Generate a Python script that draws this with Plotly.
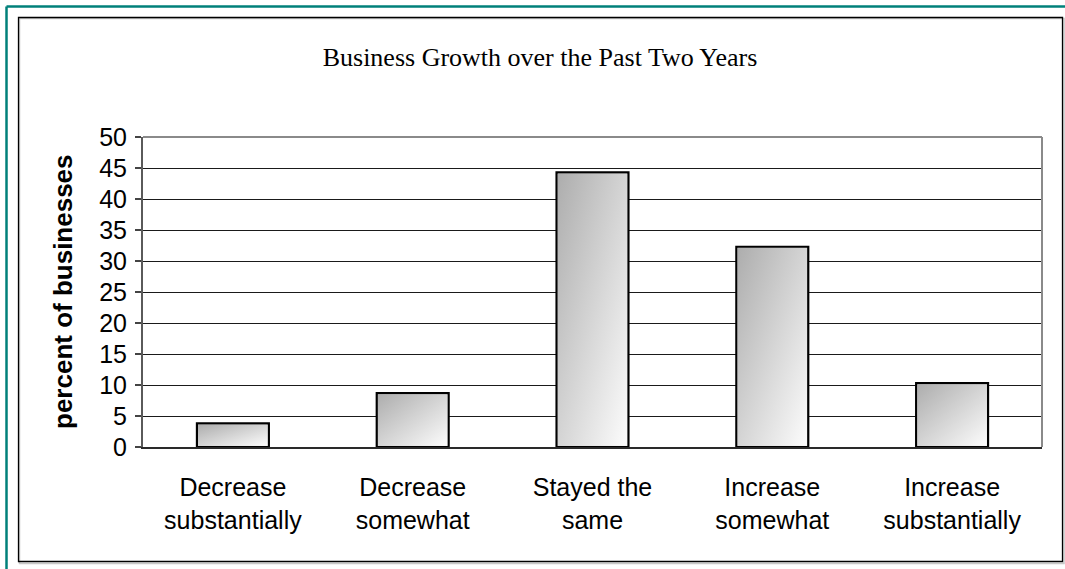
import base64
import plotly.graph_objects as go

# ---- data -------------------------------------------------------------
categories = [
    "Decrease<br>substantially",
    "Decrease<br>somewhat",
    "Stayed the<br>same",
    "Increase<br>somewhat",
    "Increase<br>substantially",
]
percent = [3.8, 8.7, 44.3, 32.3, 10.3]
y_ticks = [0, 5, 10, 15, 20, 25, 30, 35, 40, 45, 50]

# ---- page geometry ----------------------------------------------------
W, H = 1065, 569
ML, MR, MT, MB = 143, 23, 137, 122
PW, PH = W - ML - MR, H - MT - MB


def paper_x(px):
    return (px - ML) / PW


def paper_y(py):
    return (H - MB - py) / PH


BAR_W = 0.4
x_pos = list(range(len(categories)))

fig = go.Figure()

fig.add_trace(go.Bar(
    x=x_pos,
    y=percent,
    width=BAR_W,
    marker=dict(color="#cfcfcf", line=dict(color="black", width=2.2)),
    hoverinfo="y",
    showlegend=False,
))

# diagonal grey gradient used to fill each bar
grad_svg = (
    '<svg xmlns="http://www.w3.org/2000/svg" width="100" height="100" '
    'viewBox="0 0 100 100" preserveAspectRatio="none">'
    '<defs><linearGradient id="g" x1="0" y1="0" x2="1" y2="1">'
    '<stop offset="0" stop-color="#adadad"/>'
    '<stop offset="1" stop-color="#fcfcfc"/>'
    '</linearGradient></defs>'
    '<rect width="100" height="100" fill="url(#g)"/></svg>'
)
grad_src = "data:image/svg+xml;base64," + base64.b64encode(grad_svg.encode()).decode()

# inset (in axis units) so the gradient sits inside the bar outline
ix = 1.1 / (PW / 5)
iy = 1.1 / (PH / 50)
images = []
for xi, v in zip(x_pos, percent):
    images.append(dict(
        source=grad_src, xref="x", yref="y",
        x=xi - BAR_W / 2 + ix, y=v - iy,
        sizex=BAR_W - 2 * ix, sizey=v - 2 * iy,
        xanchor="left", yanchor="top", sizing="stretch", layer="above",
    ))

shapes = [
    # teal outer border (top and left)
    dict(type="line", xref="paper", yref="paper",
         x0=paper_x(6.5), x1=paper_x(W + 5), y0=paper_y(6.5), y1=paper_y(6.5),
         line=dict(color="#00807a", width=2.5)),
    dict(type="line", xref="paper", yref="paper",
         x0=paper_x(6.5), x1=paper_x(6.5), y0=paper_y(6.5), y1=paper_y(H + 5),
         line=dict(color="#00807a", width=2.5)),
    # soft shadow of the chart frame
    dict(type="rect", xref="paper", yref="paper",
         x0=paper_x(19.5), x1=paper_x(1064), y0=paper_y(18.5), y1=paper_y(563.5),
         line=dict(color="#c8c8c8", width=1.5)),
    # chart frame
    dict(type="rect", xref="paper", yref="paper",
         x0=paper_x(18.5), x1=paper_x(1062.5), y0=paper_y(17.5), y1=paper_y(561.5),
         line=dict(color="black", width=1.3)),
    # plot area border (top and right)
    dict(type="line", xref="paper", yref="paper",
         x0=0, x1=1, y0=1, y1=1, line=dict(color="#8a8a8a", width=2)),
    dict(type="line", xref="paper", yref="paper",
         x0=1, x1=1, y0=0, y1=1, line=dict(color="#8a8a8a", width=2)),
]

fig.update_layout(
    width=W, height=H,
    margin=dict(l=ML, r=MR, t=MT, b=MB),
    paper_bgcolor="white", plot_bgcolor="white",
    bargap=0.6,
    images=images,
    shapes=shapes,
    title=dict(
        text="Business Growth over the Past Two Years",
        font=dict(family="Liberation Serif", size=26, color="black"),
        x=540 / W, xref="container", xanchor="center",
        y=1 - 57 / H, yref="container", yanchor="middle",
    ),
    annotations=[dict(
        text="<b>percent of businesses</b>", xref="paper", yref="paper",
        x=paper_x(63), y=paper_y(292), textangle=-90, showarrow=False,
        font=dict(family="Liberation Sans", size=26, color="black"),
        xanchor="center", yanchor="middle",
    )],
    xaxis=dict(
        range=[-0.5, len(categories) - 0.5],
        tickvals=x_pos, ticktext=categories,
        showgrid=False, zeroline=False,
        showline=True, linecolor="#2a2a2a", linewidth=2,
        ticks="", ticklabelstandoff=17,
        tickfont=dict(family="Liberation Sans", size=25, color="black"),
    ),
    yaxis=dict(
        range=[0, 50], tickvals=y_ticks,
        showgrid=True, gridcolor="#1a1a1a", gridwidth=1,
        zeroline=False,
        showline=True, linecolor="#5a5a5a", linewidth=2,
        ticks="outside", ticklen=6, tickcolor="#444", tickwidth=1.5,
        ticklabelstandoff=3,
        tickfont=dict(family="Liberation Sans", size=25, color="black"),
    ),
)

fig.write_html("out.html")
